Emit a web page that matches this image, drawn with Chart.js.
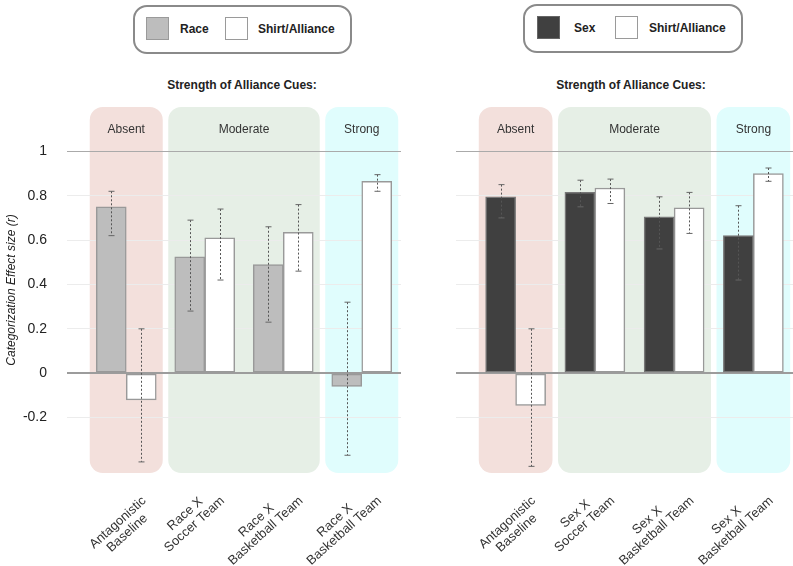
<!DOCTYPE html>
<html>
<head>
<meta charset="utf-8">
<script src="https://cdn.jsdelivr.net/npm/chart.js@4.4.0/dist/chart.umd.min.js"></script>
<style>
  body { margin: 0; background: #fff; font-family: "Liberation Sans", Arial, sans-serif; color: #222; }
  #wrap { position: relative; width: 793px; height: 566px; overflow: hidden; }
  canvas { position: absolute; top: 0; }
  .legend { position: absolute; box-sizing: border-box; height: 49px; border: 2px solid #8a8a8a; border-radius: 14px; }
  .sw { position: absolute; top: 10px; width: 23px; height: 23px; box-sizing: border-box; border: 1px solid #9a9a9a; }
  .lt { position: absolute; top: 15px; font-size: 12px; line-height: 14px; font-weight: bold; white-space: nowrap; }
  .title { position: absolute; top: 78px; width: 240px; text-align: center; font-size: 12px; line-height: 14px; font-weight: bold; }
</style>
</head>
<body>
<div id="wrap">
  <div class="legend" style="left:133px; top:5px; width:219px;">
    <div class="sw" style="left:11px; background:#bdbdbd;"></div>
    <div class="lt" style="left:45px;">Race</div>
    <div class="sw" style="left:90px; background:#fff;"></div>
    <div class="lt" style="left:123px;">Shirt/Alliance</div>
  </div>
  <div class="legend" style="left:523px; top:4px; width:220px;">
    <div class="sw" style="left:12px; background:#404040; border-color:#666;"></div>
    <div class="lt" style="left:49px;">Sex</div>
    <div class="sw" style="left:90px; background:#fff;"></div>
    <div class="lt" style="left:124px;">Shirt/Alliance</div>
  </div>
  <div class="title" style="left:122px;">Strength of Alliance Cues:</div>
  <div class="title" style="left:511px;">Strength of Alliance Cues:</div>
  <canvas id="raceChart" width="420" height="566" style="left:0;"></canvas>
  <canvas id="sexChart" width="373" height="566" style="left:420px;"></canvas>
</div>
<script>
// categories
var raceLabels = [['Antagonistic', 'Baseline'], ['Race X', 'Soccer Team'], ['Race X', 'Basketball Team'], ['Race X', 'Basketball Team']];
var sexLabels = [['Antagonistic', 'Baseline'], ['Sex X', 'Soccer Team'], ['Sex X', 'Basketball Team'], ['Sex X', 'Basketball Team']];

// race panel
var raceValues = [0.75, 0.525, 0.49, -0.06];
var raceLow = [0.62, 0.28, 0.23, -0.37];
var raceHigh = [0.82, 0.69, 0.66, 0.32];
var shirtRaceValues = [-0.12, 0.61, 0.635, 0.865];
var shirtRaceLow = [-0.40, 0.42, 0.46, 0.82];
var shirtRaceHigh = [0.20, 0.74, 0.76, 0.895];

// sex panel
var sexValues = [0.795, 0.815, 0.705, 0.62];
var sexLow = [0.70, 0.75, 0.56, 0.42];
var sexHigh = [0.85, 0.87, 0.795, 0.755];
var shirtSexValues = [-0.145, 0.835, 0.745, 0.90];
var shirtSexLow = [-0.42, 0.765, 0.63, 0.865];
var shirtSexHigh = [0.20, 0.875, 0.815, 0.925];

// cue strength groups (first / last category index)
var cueNames = ['Absent', 'Moderate', 'Strong'];
var cueFirst = [0, 1, 3];
var cueLast = [0, 2, 3];
var cueColors = ['#f3e0dc', '#e6efe6', '#e0fdfd'];

var yTicks = [-0.2, 0, 0.2, 0.4, 0.6, 0.8, 1];

Chart.defaults.font.family = '"Liberation Sans", Arial, sans-serif';
Chart.defaults.color = '#222';

var cueBoxes = {
    id: 'cueBoxes',
    beforeDraw: function (chart) {
        var ctx = chart.ctx, xs = chart.scales.x, area = chart.chartArea;
        var half = xs.width / xs.ticks.length * 0.465;
        ctx.save();
        for (var i = 0; i < cueNames.length; i++) {
            var x1 = xs.getPixelForValue(cueFirst[i]) - half;
            var x2 = xs.getPixelForValue(cueLast[i]) + half;
            ctx.fillStyle = cueColors[i];
            ctx.beginPath();
            ctx.roundRect(x1, area.top, x2 - x1, area.bottom - area.top, 13);
            ctx.fill();
            ctx.fillStyle = '#333';
            ctx.font = '12px "Liberation Sans", Arial, sans-serif';
            ctx.textAlign = 'center';
            ctx.textBaseline = 'middle';
            ctx.fillText(cueNames[i], (x1 + x2) / 2, area.top + 23);
        }
        ctx.restore();
    }
};

var errorBars = {
    id: 'errorBars',
    afterDatasetsDraw: function (chart) {
        var ctx = chart.ctx, ys = chart.scales.y;
        ctx.save();
        chart.data.datasets.forEach(function (ds, d) {
            chart.getDatasetMeta(d).data.forEach(function (bar, i) {
                var yl = ys.getPixelForValue(ds.errLow[i]);
                var yh = ys.getPixelForValue(ds.errHigh[i]);
                var x = Math.round(bar.x) + 0.5;
                ctx.strokeStyle = '#555';
                ctx.lineWidth = 1;
                ctx.setLineDash([2, 2]);
                ctx.beginPath();
                ctx.moveTo(x, yh);
                ctx.lineTo(x, yl);
                ctx.stroke();
                ctx.setLineDash([]);
                ctx.strokeStyle = '#666';
                ctx.beginPath();
                ctx.moveTo(x - 3, yh); ctx.lineTo(x + 3, yh);
                ctx.moveTo(x - 3, yl); ctx.lineTo(x + 3, yl);
                ctx.stroke();
            });
        });
        ctx.restore();
    }
};

// rotated two-line category labels, lines centred on each other
var slantLabels = {
    id: 'slantLabels',
    afterDraw: function (chart) {
        var ctx = chart.ctx, xs = chart.scales.x, area = chart.chartArea;
        ctx.save();
        ctx.font = '13px "Liberation Sans", Arial, sans-serif';
        ctx.fillStyle = '#333';
        ctx.textAlign = 'center';
        ctx.textBaseline = 'middle';
        chart.data.labels.forEach(function (lines, i) {
            var widths = lines.map(function (t) { return ctx.measureText(t).width; });
            var maxW = Math.max.apply(null, widths);
            var k = widths.indexOf(maxW);
            ctx.save();
            ctx.translate(xs.getPixelForValue(i) + 18, area.bottom + 26);
            ctx.rotate(-42 * Math.PI / 180);
            lines.forEach(function (t, j) {
                ctx.fillText(t, -maxW / 2, (j - k) * 14);
            });
            ctx.restore();
        });
        ctx.restore();
    }
};

function makeChart(id, labels, first, second, showY, yWidth, padRight) {
    return new Chart(document.getElementById(id), {
        type: 'bar',
        data: {
            labels: labels,
            datasets: [first, second]
        },
        options: {
            responsive: false,
            animation: false,
            layout: { padding: { top: 107, right: padRight, left: 0, bottom: 0 } },
            plugins: { legend: { display: false }, tooltip: { enabled: false } },
            datasets: { bar: { barThickness: 30, borderWidth: 1.5, borderSkipped: false } },
            scales: {
                x: {
                    grid: { display: false },
                    border: { display: false },
                    ticks: { display: false },
                    afterFit: function (s) { s.height = 93; }
                },
                y: {
                    min: -0.45,
                    max: 1.2,
                    afterBuildTicks: function (s) { s.ticks = yTicks.map(function (v) { return { value: v }; }); },
                    afterFit: function (s) { s.width = yWidth; },
                    border: { display: false },
                    grid: {
                        tickLength: 20,
                        color: function (c) {
                            if (c.tick.value === 0) return '#9c9c9c';
                            if (c.tick.value === 1) return '#aaaaaa';
                            return '#ececec';
                        },
                        lineWidth: function (c) { return c.tick.value === 0 ? 2 : 1; }
                    },
                    ticks: {
                        display: showY,
                        padding: 20,
                        font: { size: 14 },
                        color: '#222',
                        callback: function (v) { return String(Math.round(v * 10) / 10); }
                    },
                    title: {
                        display: showY,
                        text: 'Categorization Effect size (r)',
                        font: { size: 12, style: 'italic' },
                        color: '#222'
                    }
                }
            }
        },
        plugins: [cueBoxes, errorBars, slantLabels]
    });
}

makeChart('raceChart', raceLabels,
    { label: 'Race', data: raceValues, errLow: raceLow, errHigh: raceHigh, backgroundColor: '#bdbdbd', borderColor: '#999' },
    { label: 'Shirt/Alliance', data: shirtRaceValues, errLow: shirtRaceLow, errHigh: shirtRaceHigh, backgroundColor: '#fff', borderColor: '#999' },
    true, 87, 19);

makeChart('sexChart', sexLabels,
    { label: 'Sex', data: sexValues, errLow: sexLow, errHigh: sexHigh, backgroundColor: '#404040', borderColor: '#777' },
    { label: 'Shirt/Alliance', data: shirtSexValues, errLow: shirtSexLow, errHigh: shirtSexHigh, backgroundColor: '#fff', borderColor: '#999' },
    false, 56, 0);
</script>
</body>
</html>
